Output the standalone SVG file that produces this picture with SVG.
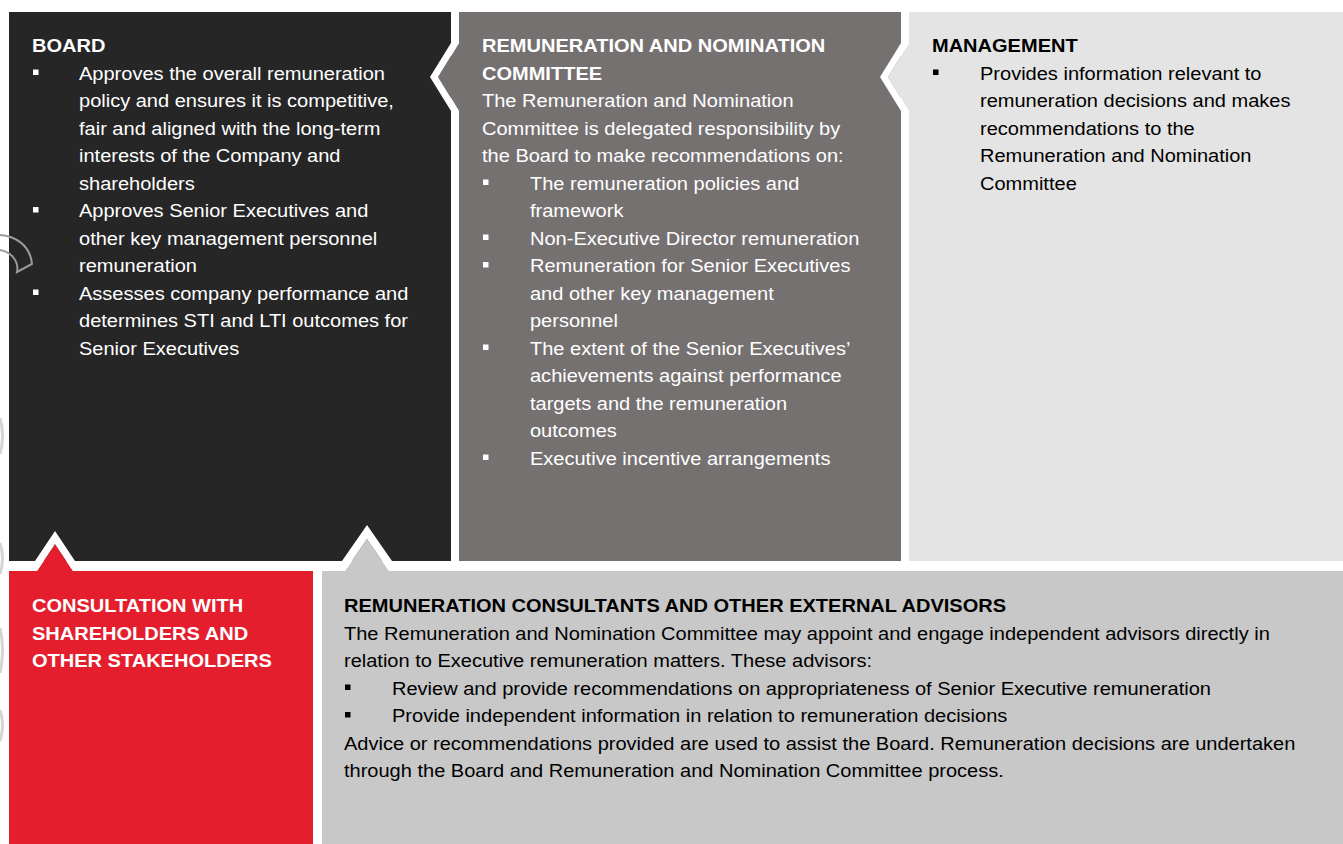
<svg xmlns="http://www.w3.org/2000/svg" width="1343" height="844" viewBox="0 0 1343 844">
<style>
text{font-family:"Liberation Sans",Arial,sans-serif;font-size:18.5px}
.b{font-weight:bold}
.w{fill:#ffffff}
.k{fill:#000000}
.bw{fill:#ffffff}
.bk{fill:#000000}
.band{fill:#ffffff}
.edge{fill:none;stroke:#d4d4d4;stroke-width:3}
</style>
<rect width="1343" height="844" fill="#ffffff"/>
<g id="edge-marks">
<path class="edge" d="M0,418 Q5,436 0,454"/>
<path class="edge" d="M0,543 Q5,558 0,574"/>
<path class="edge" d="M0,628 Q5,650 0,673"/>
<path class="edge" d="M0,710 Q5,725 0,741"/>
</g>
<g id="board">
<rect x="9" y="12" width="442" height="549" fill="#262626"/>
<path d="M0,235 C14,236 30,244 32,264 L17,272 C19,262 12,252 0,250" fill="none" stroke="#9a9a9a" stroke-width="2"/>
<text class="w b" x="32" y="52.5" transform="matrix(1.083 0 0 1 -2.656 0)">BOARD</text>
<rect class="bw" x="33" y="69.5" width="5.5" height="5.5"/>
<rect class="bw" x="33" y="207" width="5.5" height="5.5"/>
<rect class="bw" x="33" y="289.5" width="5.5" height="5.5"/>
<text class="w" x="79" y="80" transform="matrix(1.083 0 0 1 -6.557 0)">Approves the overall remuneration<tspan x="79" dy="27.5">policy and ensures it is competitive,</tspan><tspan x="79" dy="27.5">fair and aligned with the long-term</tspan><tspan x="79" dy="27.5">interests of the Company and</tspan><tspan x="79" dy="27.5">shareholders</tspan><tspan x="79" dy="27.5">Approves Senior Executives and</tspan><tspan x="79" dy="27.5">other key management personnel</tspan><tspan x="79" dy="27.5">remuneration</tspan><tspan x="79" dy="27.5">Assesses company performance and</tspan><tspan x="79" dy="27.5">determines STI and LTI outcomes for</tspan><tspan x="79" dy="27.5">Senior Executives</tspan></text>
</g>
<g id="committee">
<polygon fill="#767171" points="459,12 901,12 901,561 459,561 459,111 438,77 459,43"/>
<text class="w b" x="482" y="52.5" transform="matrix(1.083 0 0 1 -40.006 0)">REMUNERATION AND NOMINATION<tspan x="482" dy="27.5">COMMITTEE</tspan></text>
<text class="w" x="482" y="107.5" transform="matrix(1.083 0 0 1 -40.006 0)">The Remuneration and Nomination<tspan x="482" dy="27.5">Committee is delegated responsibility by</tspan><tspan x="482" dy="27.5">the Board to make recommendations on:</tspan></text>
<rect class="bw" x="483" y="179.5" width="5.5" height="5.5"/>
<rect class="bw" x="483" y="234.5" width="5.5" height="5.5"/>
<rect class="bw" x="483" y="262" width="5.5" height="5.5"/>
<rect class="bw" x="483" y="344.5" width="5.5" height="5.5"/>
<rect class="bw" x="483" y="454.5" width="5.5" height="5.5"/>
<text class="w" x="530" y="190" transform="matrix(1.083 0 0 1 -43.99 0)">The remuneration policies and<tspan x="530" dy="27.5">framework</tspan><tspan x="530" dy="27.5">Non-Executive Director remuneration</tspan><tspan x="530" dy="27.5">Remuneration for Senior Executives</tspan><tspan x="530" dy="27.5">and other key management</tspan><tspan x="530" dy="27.5">personnel</tspan><tspan x="530" dy="27.5">The extent of the Senior Executives’</tspan><tspan x="530" dy="27.5">achievements against performance</tspan><tspan x="530" dy="27.5">targets and the remuneration</tspan><tspan x="530" dy="27.5">outcomes</tspan><tspan x="530" dy="27.5">Executive incentive arrangements</tspan></text>
</g>
<g id="management">
<polygon fill="#e4e4e4" points="909,12 1343,12 1343,561 909,561 909,111 888,77 909,43"/>
<text class="k b" x="932" y="52.5" transform="matrix(1.083 0 0 1 -77.356 0)">MANAGEMENT</text>
<rect class="bk" x="933" y="69.5" width="5.5" height="5.5"/>
<text class="k" x="980" y="80" transform="matrix(1.083 0 0 1 -81.34 0)">Provides information relevant to<tspan x="980" dy="27.5">remuneration decisions and makes</tspan><tspan x="980" dy="27.5">recommendations to the</tspan><tspan x="980" dy="27.5">Remuneration and Nomination</tspan><tspan x="980" dy="27.5">Committee</tspan></text>
</g>
<g id="consultation">
<polygon fill="#e41e2d" points="9,571 37,571 55,544 73,571 313,571 313,844 9,844"/>
<text class="w b" x="32" y="612.5" transform="matrix(1.083 0 0 1 -2.656 0)">CONSULTATION WITH<tspan x="32" dy="27.5">SHAREHOLDERS AND</tspan><tspan x="32" dy="27.5">OTHER STAKEHOLDERS</tspan></text>
</g>
<g id="advisors">
<polygon fill="#c8c8c8" points="322,571 345,571 367,539 389,571 1343,571 1343,844 322,844"/>
<text class="k b" x="344" y="612.5" transform="matrix(1.083 0 0 1 -28.552 0)">REMUNERATION CONSULTANTS AND OTHER EXTERNAL ADVISORS</text>
<text class="k" x="344" y="640" transform="matrix(1.083 0 0 1 -28.552 0)">The Remuneration and Nomination Committee may appoint and engage independent advisors directly in<tspan x="344" dy="27.5">relation to Executive remuneration matters. These advisors:</tspan></text>
<rect class="bk" x="345" y="684.5" width="5.5" height="5.5"/>
<rect class="bk" x="345" y="712" width="5.5" height="5.5"/>
<text class="k" x="392" y="695" transform="matrix(1.083 0 0 1 -32.536 0)">Review and provide recommendations on appropriateness of Senior Executive remuneration<tspan x="392" dy="27.5">Provide independent information in relation to remuneration decisions</tspan></text>
<text class="k" x="344" y="750" transform="matrix(1.083 0 0 1 -28.552 0)">Advice or recommendations provided are used to assist the Board. Remuneration decisions are undertaken<tspan x="344" dy="27.5">through the Board and Remuneration and Nomination Committee process.</tspan></text>
</g>
<g id="connectors">
<polygon class="band" points="451,43 430,77 451,111 459,111 438,77 459,43"/>
<polygon class="band" points="901,43 880,77 901,111 909,111 888,77 909,43"/>
<polygon class="band" points="35,561 55,531 75,561 73,571 55,544 37,571"/>
<polygon class="band" points="342,561 367,525 392,561 389,571 367,539 345,571"/>
</g>
</svg>
